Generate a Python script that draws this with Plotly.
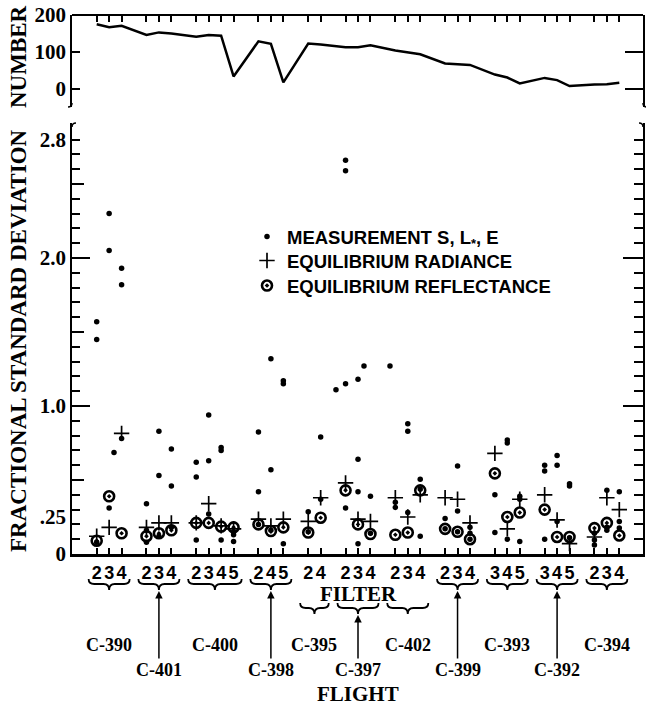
import plotly.graph_objects as go

W, H = 646, 709

# ---------------- data ----------------
flights = ["C-390", "C-401", "C-400", "C-398", "C-395", "C-397",
           "C-402", "C-399", "C-393", "C-392", "C-394"]
filters = [[2, 3, 4], [2, 3, 4], [2, 3, 4, 5], [2, 4, 5], [2, 4], [2, 3, 4],
           [2, 3, 4], [2, 3, 4], [3, 4, 5], [3, 4, 5], [2, 3, 4]]
label_row = [0, 1, 0, 1, 0, 1, 0, 1, 0, 1, 0]   # 1 = lower row, with arrow
brace_row = [0, 0, 0, 0, 1, 1, 1, 0, 0, 0, 0]   # 1 = brace below FILTER

number_counts = [175, 167, 171, 146, 153, 150, 141, 146, 144, 34,
                 129, 122, 18, 123, 120, 113, 113, 118, 104, 98, 94,
                 69, 68, 65, 39, 31, 15, 30, 24, 8, 12, 13, 17]

measurement = [
    [1.57, 1.45, 0.08], [2.30, 2.05, 0.31], [1.93, 1.82, 0.78],
    [0.34, 0.16, 0.08], [0.83, 0.53, 0.12], [0.71, 0.46, 0.18],
    [0.62, 0.52, 0.095], [0.94, 0.63, 0.27], [0.72, 0.70, 0.095], [0.15, 0.13, 0.085],
    [0.825, 0.42, 0.20], [1.32, 0.57, 0.16], [1.17, 1.15, 0.07],
    [0.285, 0.15], [0.79, 0.37],
    [2.66, 2.59, 1.15, 0.31], [1.18, 0.64, 0.42, 0.07], [0.39, 0.14],
    [0.35, 0.315], [0.88, 0.83, 0.28], [0.505, 0.44, 0.12],
    [0.24, 0.17], [0.595, 0.29, 0.15], [0.18, 0.14, 0.10],
    [0.40, 0.145], [0.77, 0.75, 0.10], [0.39, 0.37, 0.085],
    [0.60, 0.56, 0.10], [0.665, 0.60, 0.22], [0.475, 0.46, 0.11],
    [0.14, 0.095, 0.06], [0.43, 0.18, 0.16], [0.42, 0.22, 0.175],
]
# dots drawn between filter positions in the original
extra_meas_pos = [1.39, 19.23, 21.48, 23.57]
extra_meas_val = [0.685, 1.11, 1.27, 1.27]

radiance = [0.12, 0.18, 0.815, 0.18, 0.21, 0.21, 0.21, 0.34, 0.19, 0.17,
            0.235, 0.19, 0.235, 0.22, 0.38, 0.48, 0.235, 0.22,
            0.38, 0.25, 0.40, 0.38, 0.37, 0.21, 0.68, 0.17, 0.37,
            0.40, 0.23, 0.07, 0.115, 0.38, 0.30]
reflectance = [0.09, 0.39, 0.14, 0.12, 0.14, 0.16, 0.21, 0.21, 0.185, 0.18,
               0.20, 0.155, 0.18, 0.145, 0.245, 0.43, 0.20, 0.135,
               0.13, 0.145, 0.43, 0.17, 0.15, 0.10, 0.545, 0.25, 0.28,
               0.30, 0.115, 0.115, 0.175, 0.21, 0.125]

y_ticks = [0, 0.25, 1.0, 2.0, 2.8]
y_ticktext = ["0", ".25", "1.0", "2.0", "2.8"]
n_ticks = [0, 100, 200]

# ---------------- positions (slots) ----------------
positions, tick_text, group_slots = [], [], []
p = 0
for fl in filters:
    g = []
    for f in fl:
        positions.append(p)
        tick_text.append(str(f))
        g.append(p)
        p += 1
    group_slots.append(g)
    p += 1

mx, my = [], []
for pos, vals in zip(positions, measurement):
    for v in vals:
        mx.append(pos)
        my.append(v)
mx += extra_meas_pos
my += extra_meas_val


def px(x):
    return x / W


def py(y):
    return 1 - y / H


# pixel geometry
XL, XR = 72, 643
SLOT0, SLOTW = 96.7, 12.443
xrange_ = [(XL - SLOT0) / SLOTW, (XR - SLOT0) / SLOTW]
Y0, PPU, YTOP = 554, 148.0, 123
yrange = [0, (Y0 - YTOP) / PPU]
T_TOP, T_ZERO, T_BOT = 15, 89, 107
tppu = (T_ZERO - T_TOP) / 200
y2range = [-(T_BOT - T_ZERO) / tppu, 200]

SERIF = "Liberation Serif"
SANS = "Liberation Sans"

fig = go.Figure()

fig.add_trace(go.Scatter(x=positions, y=number_counts, mode="lines",
                         line=dict(color="black", width=2.5),
                         xaxis="x2", yaxis="y2", showlegend=False, hoverinfo="skip"))

fig.add_trace(go.Scatter(x=mx, y=my, mode="markers", legend="legend",
                         name="<b>MEASUREMENT S, L<sub>*</sub>, E</b>",
                         marker=dict(symbol="circle", size=5.5, color="black")))
fig.add_trace(go.Scatter(x=positions, y=radiance, mode="markers", legend="legend2",
                         name="<b>EQUILIBRIUM RADIANCE</b>",
                         marker=dict(symbol="cross-thin", size=11, color="black",
                                     line=dict(color="black", width=1.7))))
fig.add_trace(go.Scatter(x=positions, y=reflectance, mode="markers", legend="legend3",
                         name="<b>EQUILIBRIUM REFLECTANCE</b>",
                         marker=dict(symbol="circle-open-dot", size=10, color="black",
                                     line=dict(color="black", width=2.6))))

# empty traces so that the overlay tick axes are drawn
for ya, xa in [("y3", "x"), ("y4", "x"), ("y5", "x"), ("y6", "x2"), ("y2", "x3")]:
    fig.add_trace(go.Scatter(x=[None], y=[None], xaxis=xa, yaxis=ya,
                             showlegend=False, hoverinfo="skip"))

minor_vals = [round(0.1 * i, 1) for i in range(1, 29)]
minor_left = [v for v in minor_vals if v not in (0.5, 1.0, 1.5, 2.0, 2.5)]
minor_right = [v for v in minor_vals if v not in (1.0, 2.0)]

dom_x = [px(XL), px(XR)]
dom_y = [py(Y0), py(YTOP)]
dom_y2 = [py(T_BOT), py(T_TOP)]

common = dict(showgrid=False, zeroline=False, color="black", automargin=False)
legend_common = dict(x=px(247), xanchor="left", yanchor="middle",
                     bgcolor="rgba(0,0,0,0)", borderwidth=0,
                     font=dict(family=SANS, size=18.5, color="black"))

fig.update_layout(
    width=W, height=H, autosize=False,
    margin=dict(l=0, r=0, t=0, b=0, pad=0, autoexpand=False),
    paper_bgcolor="white", plot_bgcolor="white",
    xaxis=dict(domain=dom_x, range=xrange_, anchor="y", showline=True, linewidth=3,
               linecolor="black", ticks="inside", ticklen=6, tickwidth=1.5,
               tickcolor="black", tickmode="array", tickvals=positions,
               ticktext=tick_text,
               tickfont=dict(family=SANS, size=18, color="black", weight="bold"),
               **common),
    # x-axis of the NUMBER panel (no visible line of its own)
    xaxis2=dict(domain=dom_x, range=xrange_, anchor="y2", showline=False,
                ticks="", showticklabels=False, **common),
    # top border of the NUMBER panel, with filter ticks
    xaxis3=dict(domain=dom_x, range=xrange_, anchor="free", position=py(T_TOP),
                overlaying="x2", side="top", showline=True, linewidth=2,
                linecolor="black", ticks="inside", ticklen=6, tickwidth=1.5,
                tickcolor="black", tickmode="array", tickvals=positions,
                showticklabels=False, **common),
    yaxis=dict(domain=dom_y, range=yrange, anchor="x", showline=True, linewidth=1.5,
               linecolor="black", ticks="", tickmode="array", tickvals=y_ticks,
               ticktext=y_ticktext,
               tickfont=dict(family=SERIF, size=21, color="black", weight="bold"),
               **common),
    yaxis3=dict(domain=dom_y, range=yrange, anchor="x", overlaying="y", side="left",
                showline=False, ticks="inside", ticklen=18, tickwidth=1.5,
                tickcolor="black", tickvals=[1.0, 2.0], showticklabels=False,
                minor=dict(tickmode="array", tickvals=minor_left, ticks="inside",
                           ticklen=8, tickwidth=1.5, tickcolor="black"),
                **common),
    yaxis4=dict(domain=dom_y, range=yrange, anchor="x", overlaying="y", side="left",
                showline=False, ticks="inside", ticklen=12, tickwidth=1.5,
                tickcolor="black", tickvals=[0.5, 1.5, 2.5], showticklabels=False,
                **common),
    yaxis5=dict(domain=dom_y, range=yrange, anchor="x", overlaying="y", side="right",
                showline=True, linewidth=1.5, linecolor="black",
                ticks="inside", ticklen=20, tickwidth=1.5,
                tickcolor="black", tickvals=[1.0, 2.0], showticklabels=False,
                minor=dict(tickmode="array", tickvals=minor_right, ticks="inside",
                           ticklen=9, tickwidth=1.5, tickcolor="black"),
                **common),
    yaxis2=dict(domain=dom_y2, range=y2range, anchor="x2", showline=True,
                linewidth=1.5, linecolor="black", ticks="inside", ticklen=8,
                tickwidth=1.5, tickcolor="black", tickmode="array", tickvals=n_ticks,
                tickfont=dict(family=SERIF, size=21, color="black", weight="bold"),
                **common),
    yaxis6=dict(domain=dom_y2, range=y2range, anchor="x2", overlaying="y2",
                side="right", showline=True, linewidth=1.5, linecolor="black",
                ticks="inside", ticklen=18, tickwidth=1.5, tickcolor="black",
                tickmode="array", tickvals=[0, 100], showticklabels=False, **common),
    legend=dict(y=py(237), **legend_common),
    legend2=dict(y=py(261), **legend_common),
    legend3=dict(y=py(286), **legend_common),
)

annotations = []
title_font = dict(family=SERIF, size=23, color="black")
annotations.append(dict(text="<b>NUMBER</b>", x=px(19), y=py(57), xref="paper",
                        yref="paper", textangle=-90, showarrow=False,
                        xanchor="center", yanchor="middle", font=title_font))
annotations.append(dict(text="<b>FRACTIONAL STANDARD DEVIATION</b>", x=px(19),
                        y=py(341), xref="paper", yref="paper", textangle=-90,
                        showarrow=False, xanchor="center", yanchor="middle",
                        font=title_font))
label_font = dict(family=SERIF, size=21, color="black")
annotations.append(dict(text="<b>FILTER</b>", x=21, y=py(594), xref="x", yref="paper",
                        showarrow=False, xanchor="center", yanchor="middle",
                        font=label_font))
annotations.append(dict(text="<b>FLIGHT</b>", x=21, y=py(694), xref="x", yref="paper",
                        showarrow=False, xanchor="center", yanchor="middle",
                        font=label_font))

shapes = []
BR = {0: (579, 584, 590), 1: (603, 608, 614)}
for name, g, lrow, brow in zip(flights, group_slots, label_row, brace_row):
    x0, x1 = g[0] - 0.65, g[-1] + 0.65
    xm = (g[0] + g[-1]) / 2
    ya, yb, yc = (py(v) for v in BR[brow])
    d = 0.45
    path = (f"M {x0},{ya} Q {x0},{yb} {x0 + d},{yb} L {xm - d},{yb} "
            f"Q {xm},{yb} {xm},{yc} Q {xm},{yb} {xm + d},{yb} "
            f"L {x1 - d},{yb} Q {x1},{yb} {x1},{ya}")
    shapes.append(dict(type="path", path=path, xref="x", yref="paper",
                       line=dict(color="black", width=1.8)))
    font = dict(family=SERIF, size=18, color="black")
    if lrow == 0:
        annotations.append(dict(text=f"<b>{name}</b>", x=xm, y=py(645), xref="x",
                                yref="paper", showarrow=False, xanchor="center",
                                yanchor="middle", font=font))
    else:
        tip = BR[brow][2] + 1
        annotations.append(dict(text=f"<b>{name}</b>", x=xm, y=py(tip), xref="x",
                                yref="paper", showarrow=True, ax=0, ay=670 - tip,
                                xanchor="center", yanchor="middle",
                                arrowhead=2, arrowsize=1, arrowwidth=1.5,
                                arrowcolor="black", standoff=0, font=font))

# top border of the NUMBER panel (fallback, same place as the top axis line)
shapes.append(dict(type="line", xref="x2 domain", yref="y2 domain",
                   x0=0, x1=1, y0=1, y1=1, line=dict(color="black", width=2)))

# axis break hooks
for (x, y, dx, dy) in [(XL, T_BOT, -4, 4), (XR, T_BOT, 4, 4),
                       (XL, YTOP, 4, -4), (XR, YTOP, -4, -4)]:
    shapes.append(dict(type="path", xref="paper", yref="paper",
                       path=f"M {px(x)},{py(y - dy)} Q {px(x)},{py(y)} {px(x + dx)},{py(y)}",
                       line=dict(color="black", width=1.5)))

fig.update_layout(annotations=annotations, shapes=shapes)
fig.write_html("out.html")
